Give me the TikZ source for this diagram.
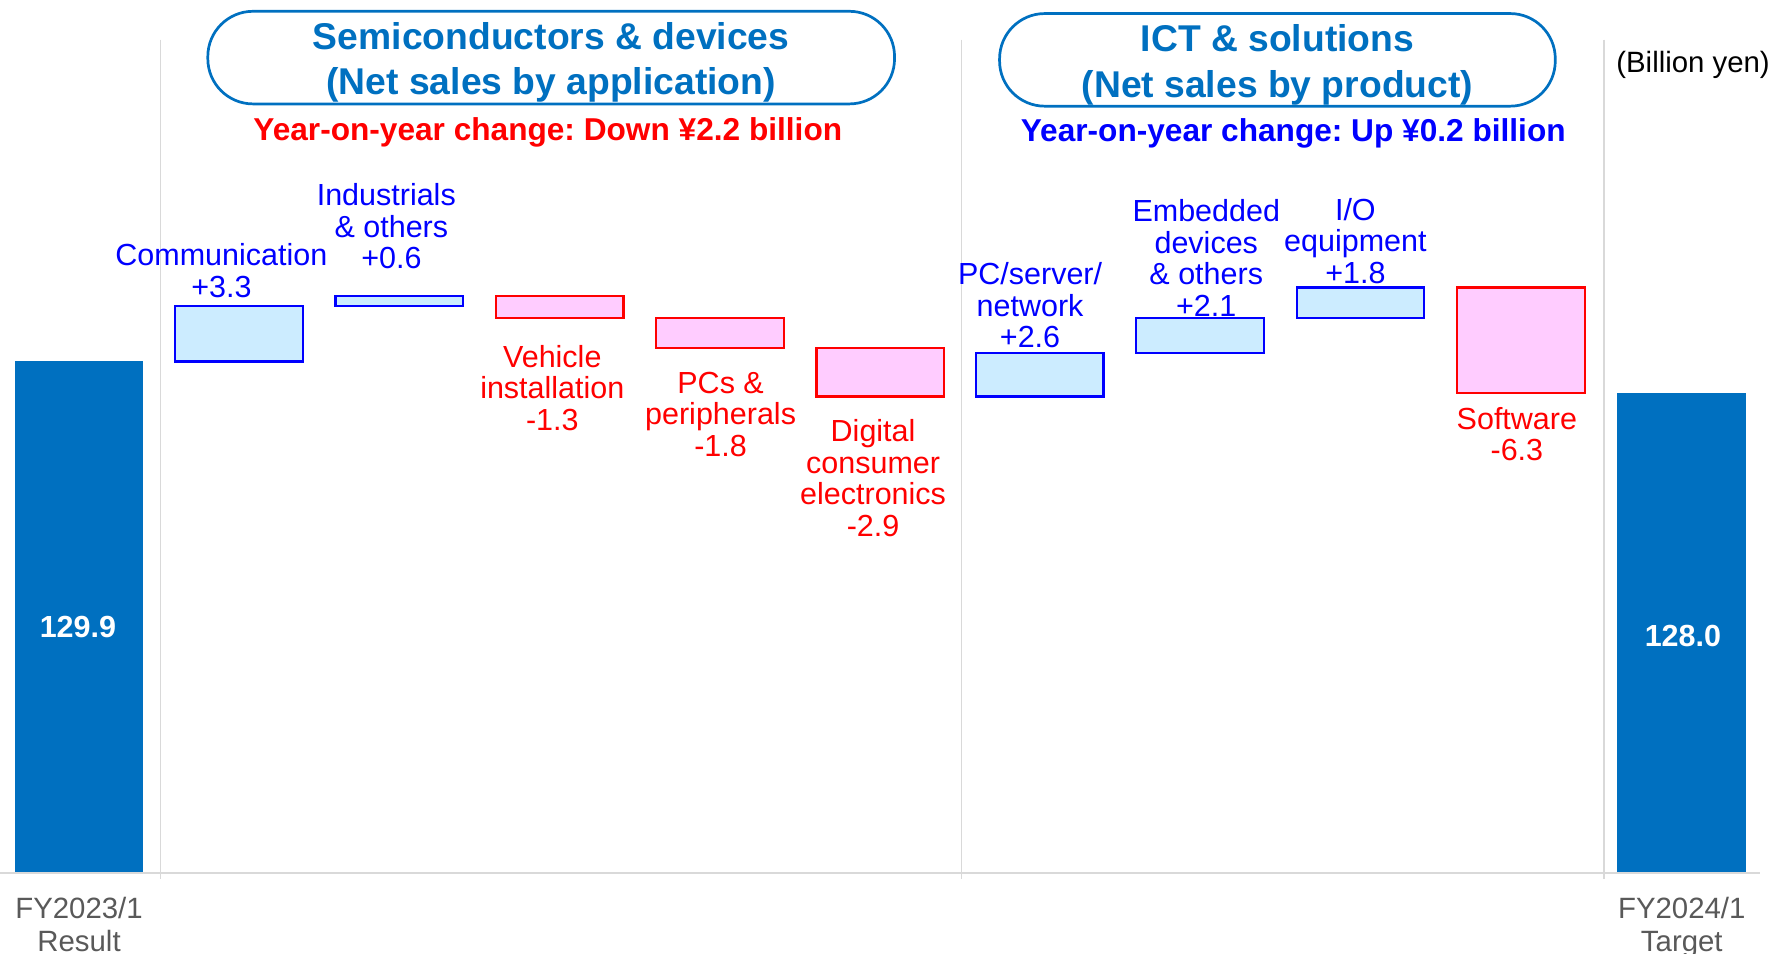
\documentclass[tikz,border=0pt]{standalone}
\usepackage{fontspec}
\setmainfont{Liberation Sans}
\frenchspacing
\definecolor{barblue}{HTML}{0070C0}
\definecolor{upblue}{HTML}{0000FF}
\definecolor{upfill}{HTML}{CCECFF}
\definecolor{downred}{HTML}{FF0000}
\definecolor{downfill}{HTML}{FFCCFF}
\definecolor{gridgray}{HTML}{D9D9D9}
\definecolor{axisgray}{HTML}{595959}
\tikzset{
  % multi-line labels are placed by the baseline of their last line
  lbl/.style={align=center, anchor=base, inner sep=0pt,
    font=\fontsize{27}{28}\selectfont},
  uplbl/.style={lbl, text=upblue},
  downlbl/.style={lbl, text=downred},
  upbox/.style={draw=upblue, fill=upfill, line width=2pt},
  downbox/.style={draw=downred, fill=downfill, line width=2pt},
  totalbar/.style={fill=barblue},
  barval/.style={anchor=base, inner sep=0pt, text=white,
    font=\fontsize{27}{28}\selectfont\bfseries},
  catlbl/.style={align=center, anchor=base, inner sep=0pt, text=axisgray,
    font=\fontsize{26}{29}\selectfont},
  titlebox/.style={draw=barblue, line width=2.4pt, rounded corners=40pt},
  titletext/.style={align=center, anchor=base, inner sep=0pt, text=barblue,
    font=\fontsize{33}{40}\selectfont\bfseries},
  yoy/.style={anchor=base, inner sep=0pt,
    font=\fontsize{28}{30}\selectfont\bfseries},
  sep/.style={draw=gridgray, line width=1.2pt},
}
\begin{document}
\begin{tikzpicture}[x=1pt, y=-1pt]
\useasboundingbox (0,0) rectangle (1568,844);

% separators and axis
\draw[sep] (142,35) -- (142,778);
\draw[sep] (851,35) -- (851,778);
\draw[sep] (1420,35) -- (1420,778);
\draw[draw=gridgray, line width=2.4pt] (0,773) -- (1558,773);

% totals
\fill[totalbar] (13,320) rectangle (127,772);
\fill[totalbar] (1432,348.2) rectangle (1546,772);
\node[barval] (v0) at (69,564) {129.9};
\node[barval] (v1) at (1490,572) {128.0};
\node[catlbl] (c0) at (70,842) {FY2023/1\\Result};
\node[catlbl] (c1) at (1489,842) {FY2024/1\\Target};

% steps: semiconductors & devices
\draw[upbox]   (155,320)   rectangle (268,271);
\draw[upbox]   (297,271)   rectangle (410,262);
\draw[downbox] (439,262)   rectangle (552,281.3);
\draw[downbox] (581,281.3) rectangle (694,308);
\draw[downbox] (723,308)   rectangle (836,351.1);
% steps: ICT & solutions
\draw[upbox]   (864,351.1) rectangle (977,312.5);
\draw[upbox]   (1006,312.5) rectangle (1119,281.3);
\draw[upbox]   (1148,281.3) rectangle (1261,254.6);
\draw[downbox] (1290,254.6) rectangle (1403,348.2);

% step labels
\node[uplbl]   (l1) at (196,263)  {Communication\\+3.3};
\node[uplbl]   (l2) at (342,238)  {Industrials\\\,\,\& others\\\,\,+0.6};
\node[downlbl] (l3) at (489,381)  {Vehicle\\installation\\-1.3};
\node[downlbl] (l4) at (638,404)  {PCs \&\\peripherals\\-1.8};
\node[downlbl] (l5) at (773,475)  {Digital\\consumer\\electronics\\-2.9};
\node[uplbl]   (l6) at (912,308)  {PC/server/\\network\\+2.6};
\node[uplbl]   (l7) at (1068,280) {Embedded\\devices\\\& others\\+2.1};
\node[uplbl]   (l8) at (1200,251) {I/O\\equipment\\+1.8};
\node[downlbl] (l9) at (1343,408) {Software\\-6.3};

% segment headings
\node[titlebox, minimum width=608pt, minimum height=82pt] (t1) at (488,51) {};
\node[titletext] (t1a) at (488,84) {Semiconductors \& devices\\(Net sales by application)};
\node[titlebox, minimum width=492pt, minimum height=82pt] (t2) at (1131,53) {};
\node[titletext] (t2a) at (1131,86) {ICT \& solutions\\(Net sales by product)};
\node[yoy, text=downred] (y1) at (485,124) {Year-on-year change: Down ¥2.2 billion};
\node[yoy, text=upblue] (y2) at (1145,125) {Year-on-year change: Up ¥0.2 billion};

\node[anchor=base, inner sep=0pt, font=\fontsize{26}{28}\selectfont] (unit) at (1499,64) {(Billion yen)};
\end{tikzpicture}
\end{document}
